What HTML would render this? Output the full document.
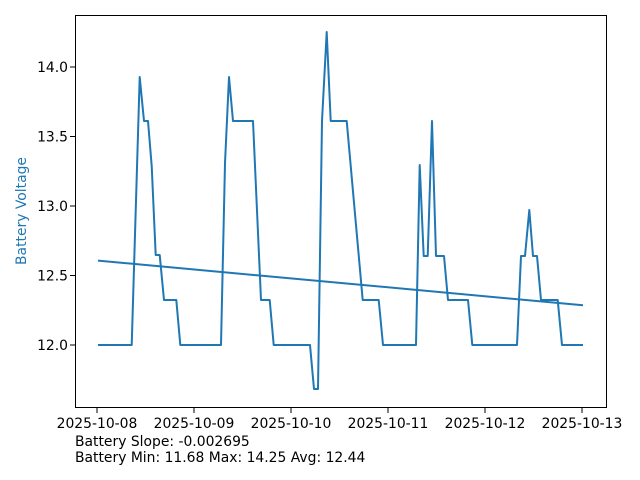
<!DOCTYPE html>
<html><head><meta charset="utf-8"><style>
body{margin:0;background:#fff;}
svg{display:block;font-family:"DejaVu Sans","Liberation Sans",sans-serif;}
</style></head><body>
<svg width="640" height="480" viewBox="0 0 640 480" xmlns="http://www.w3.org/2000/svg">
<rect width="640" height="480" fill="#fff"/>
<g fill="none" stroke="#1f77b4" stroke-width="2" stroke-linejoin="round">
<polyline points="98,345 131.7,345 139.7,77 144,121 148,121 151.7,166 155.7,255 159.7,255 164,300 176.3,300 180.3,345 221,345 225,163 229,77 233,121 253,121 261,300 269.7,300 273.7,345 310,345 314,389 318,389 322,121 326.7,32 330.7,121 346.7,121 362.7,300 378.7,300 383,345 416,345 419.7,165 423.7,256 427.7,256 432,121 436,256 444,256 448,300 468,300 472.3,345 517,345 521,256 525,256 529.3,210 533,256 537,256 541,300 557.7,300 562,345 583,345"/>
<line x1="98" y1="260.6" x2="583" y2="305.3"/>
</g>
<rect x="75.5" y="15.5" width="531" height="392" fill="none" stroke="#000" stroke-width="1"/>
<g stroke="#000" stroke-width="1">
<line x1="75" y1="67" x2="70" y2="67"/><line x1="75" y1="136.5" x2="70" y2="136.5"/><line x1="75" y1="206" x2="70" y2="206"/><line x1="75" y1="275.5" x2="70" y2="275.5"/><line x1="75" y1="345" x2="70" y2="345"/>
<line x1="97" y1="408" x2="97" y2="413"/><line x1="194" y1="408" x2="194" y2="413"/><line x1="291" y1="408" x2="291" y2="413"/><line x1="388" y1="408" x2="388" y2="413"/><line x1="485" y1="408" x2="485" y2="413"/><line x1="582" y1="408" x2="582" y2="413"/>
</g>
<g font-size="13.9px" fill="#000" text-anchor="end">
<text x="68" y="72">14.0</text><text x="68" y="141.5">13.5</text><text x="68" y="211">13.0</text><text x="68" y="280.5">12.5</text><text x="68" y="350">12.0</text>
</g>
<g font-size="13.9px" fill="#000" text-anchor="middle">
<text x="97" y="428">2025-10-08</text><text x="194" y="428">2025-10-09</text><text x="291" y="428">2025-10-10</text><text x="388" y="428">2025-10-11</text><text x="485" y="428">2025-10-12</text><text x="582" y="428">2025-10-13</text>
</g>
<text transform="translate(26,211) rotate(-90)" text-anchor="middle" font-size="13.9px" fill="#1f77b4">Battery Voltage</text>
<g font-size="13.9px" fill="#000">
<text x="75" y="446">Battery Slope: -0.002695</text>
<text x="75" y="462">Battery Min: 11.68 Max: 14.25 Avg: 12.44</text>
</g>
</svg>
</body></html>
